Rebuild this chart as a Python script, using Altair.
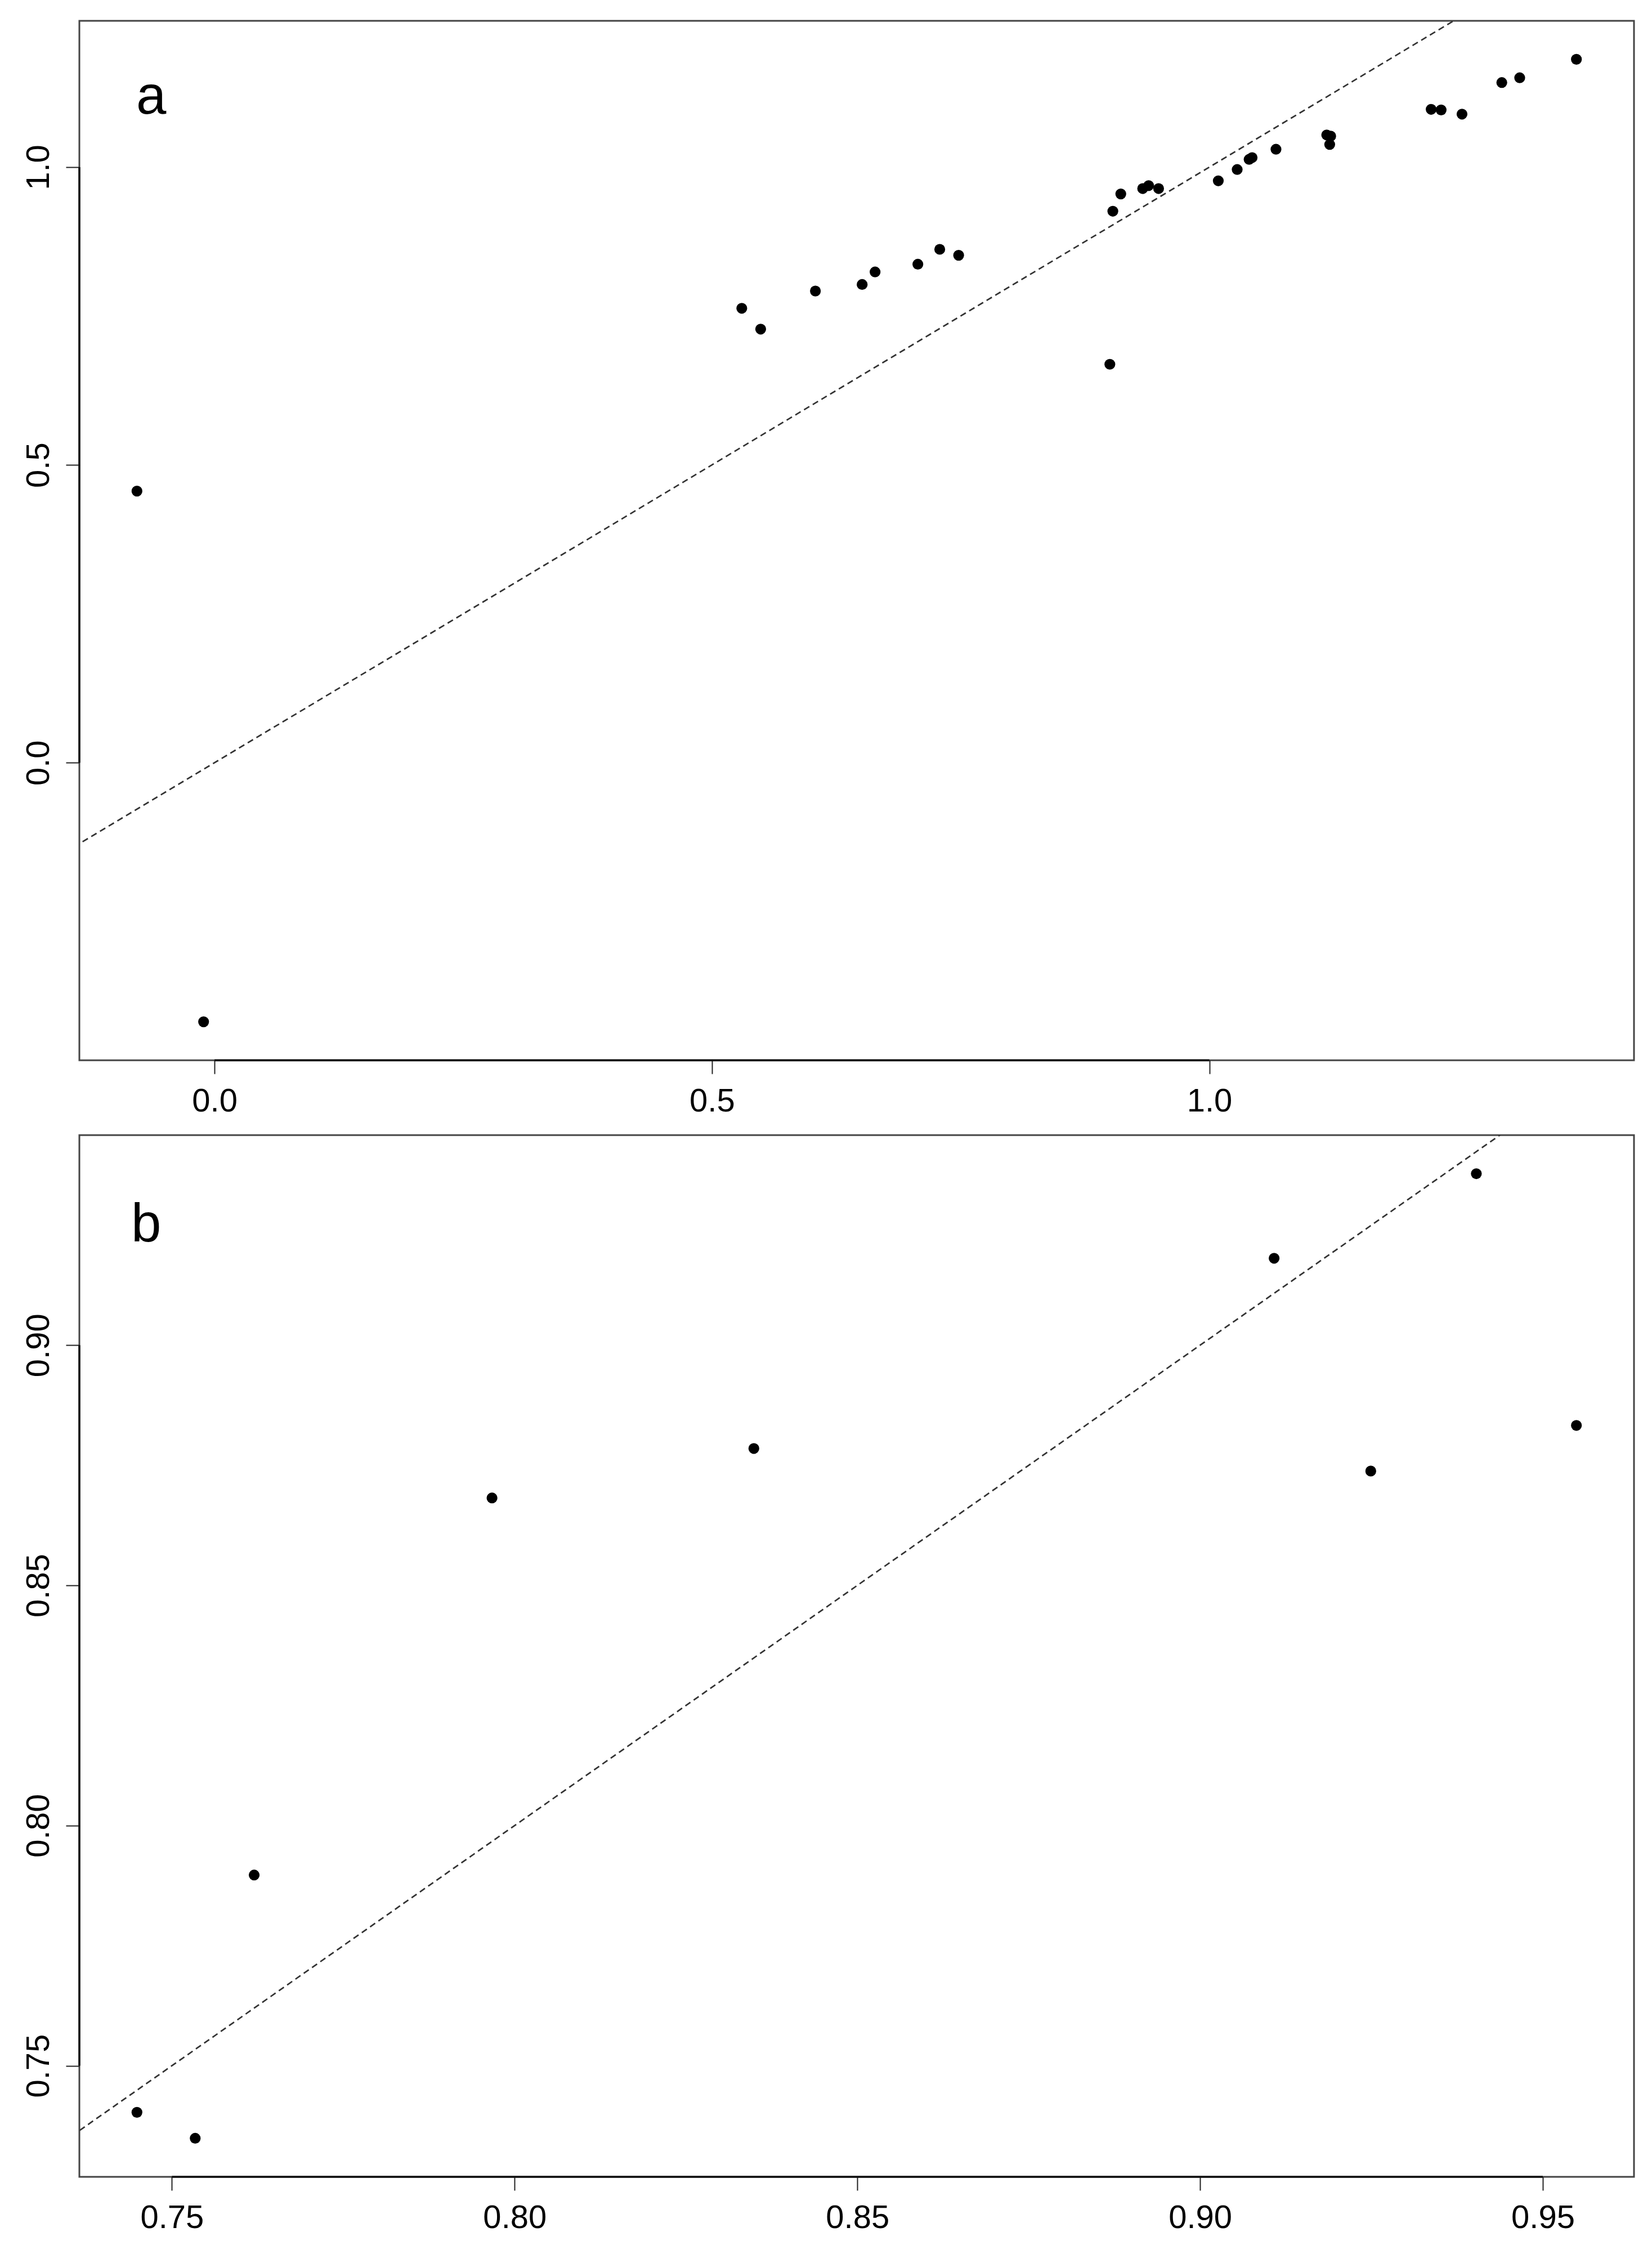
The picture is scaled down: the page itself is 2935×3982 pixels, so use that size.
import altair as alt
import pandas as pd

# Panel a data
a_x = [-0.078, -0.011, 0.530, 0.549, 0.604, 0.651, 0.664, 0.707, 0.729, 0.748,
       0.900, 0.903, 0.911, 0.933, 0.939, 0.949, 1.009, 1.028, 1.040, 1.043,
       1.067, 1.118, 1.122, 1.121, 1.223, 1.233, 1.254, 1.294, 1.312, 1.369]
a_y = [0.456, -0.435, 0.763, 0.728, 0.792, 0.803, 0.824, 0.837, 0.862, 0.852,
       0.669, 0.926, 0.955, 0.964, 0.969, 0.964, 0.977, 0.996, 1.013, 1.016,
       1.030, 1.054, 1.052, 1.038, 1.097, 1.096, 1.089, 1.142, 1.150, 1.181]
a_xticks = [0.0, 0.5, 1.0]
a_yticks = [0.0, 0.5, 1.0]

# Panel b data
b_x = [0.7449, 0.7534, 0.7620, 0.7967, 0.8349, 0.9108, 0.9249, 0.9403, 0.9549]
b_y = [0.7403, 0.7349, 0.7897, 0.8682, 0.8785, 0.9181, 0.8738, 0.9357, 0.8833]
b_xticks = [0.75, 0.80, 0.85, 0.90, 0.95]
b_yticks = [0.75, 0.80, 0.85, 0.90]

FONT = "Liberation Sans"


def rpad(v):
    lo, hi = min(v), max(v)
    r = hi - lo
    return [lo - 0.04 * r, hi + 0.04 * r]


def panel(xs, ys, xticks, yticks, fmt, letter, h, lx, ly):
    df = pd.DataFrame({"x": xs, "y": ys})
    xd = rpad(xs)
    yd = rpad(ys)
    lo = min(xd[0], yd[0])
    hi = max(xd[1], yd[1])
    xscale = alt.Scale(domain=xd, nice=False, zero=False)
    yscale = alt.Scale(domain=yd, nice=False, zero=False)
    common = dict(title=None, grid=False, domain=False, tickSize=24, tickWidth=2,
                  tickColor="#222", labelFontSize=58, labelFont=FONT,
                  labelColor="#000", labelFlush=False, labelOverlap=False, format=fmt)
    xaxis = alt.Axis(values=xticks, labelPadding=20, **common)
    yaxis = alt.Axis(values=yticks, labelAngle=270, labelAlign="center",
                     labelBaseline="alphabetic", labelPadding=31, **common)
    line_df = pd.DataFrame({"x": [lo, hi], "y": [lo, hi]})
    line = alt.Chart(line_df).mark_line(
        clip=True, strokeDash=[11, 7], strokeWidth=2.7, color="#333"
    ).encode(x=alt.X("x:Q", scale=xscale, axis=xaxis),
             y=alt.Y("y:Q", scale=yscale, axis=yaxis))
    # R-style axis lines spanning first to last tick
    xseg = alt.Chart(pd.DataFrame({"x": [xticks[0]], "x2": [xticks[-1]], "y": [yd[0]]})).mark_rule(
        color="#111", strokeWidth=3.5).encode(x="x:Q", x2="x2:Q", y="y:Q")
    yseg = alt.Chart(pd.DataFrame({"y": [yticks[0]], "y2": [yticks[-1]], "x": [xd[0]]})).mark_rule(
        color="#111", strokeWidth=3.5).encode(y="y:Q", y2="y2:Q", x="x:Q")
    pts = alt.Chart(df).mark_circle(size=370, color="black", opacity=1).encode(
        x=alt.X("x:Q", scale=xscale, axis=xaxis),
        y=alt.Y("y:Q", scale=yscale, axis=yaxis))
    txt = alt.Chart(pd.DataFrame({"t": [letter]})).mark_text(
        fontSize=96, font=FONT, align="left", baseline="alphabetic", color="black"
    ).encode(text="t:N", x=alt.value(lx), y=alt.value(ly))
    return alt.layer(line, xseg, yseg, pts, txt).properties(width=2762, height=h)


pa = panel(a_x, a_y, a_xticks, a_yticks, ".1f", "a", 1847, 101, 165)
pb = panel(b_x, b_y, b_xticks, b_yticks, ".2f", "b", 1851, 92, 189)

chart = alt.vconcat(pa, pb, spacing=133, bounds="flush").properties(
    padding={"left": 30, "top": 27, "right": 10, "bottom": 5},
    background="white",
).configure_view(stroke="#444", strokeWidth=3)

chart.save("out.html", embed_options={"renderer": "svg", "actions": False})
